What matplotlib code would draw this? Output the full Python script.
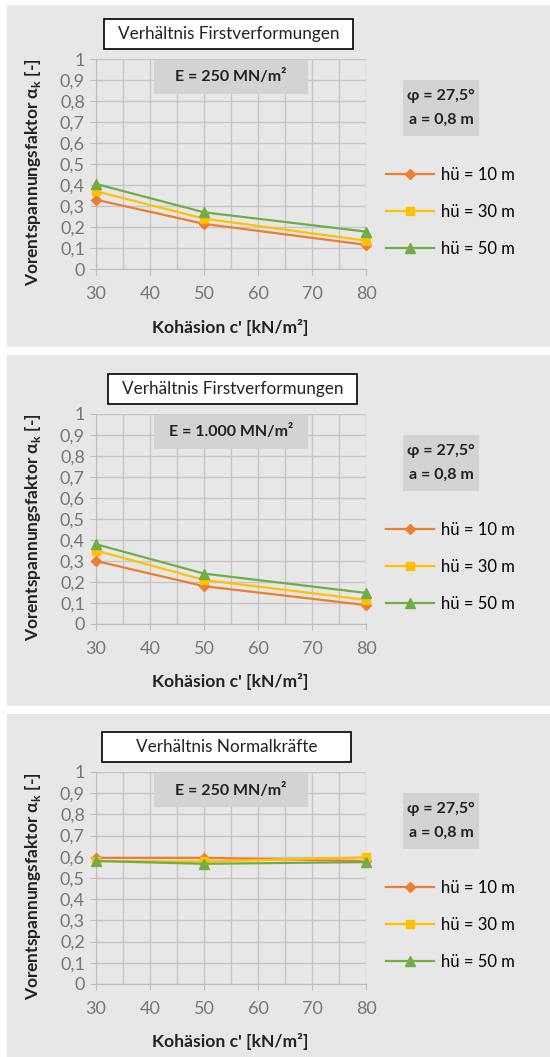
import matplotlib
matplotlib.use('Agg')
import matplotlib.pyplot as plt
from matplotlib.patches import Rectangle
from matplotlib.ticker import MultipleLocator, FuncFormatter

plt.rcParams['font.family'] = ['Lato', 'DejaVu Sans']

# data
kohaesion = [30, 50, 80]
labels = ['hü = 10 m', 'hü = 30 m', 'hü = 50 m']
titles = ['Verhältnis Firstverformungen', 'Verhältnis Firstverformungen', 'Verhältnis Normalkräfte']
e_texts = ['E = 250 MN/m²', 'E = 1.000 MN/m²', 'E = 250 MN/m²']

p1_h10 = [0.33, 0.215, 0.115]
p1_h30 = [0.37, 0.24, 0.135]
p1_h50 = [0.405, 0.27, 0.178]

p2_h10 = [0.30, 0.18, 0.09]
p2_h30 = [0.35, 0.21, 0.115]
p2_h50 = [0.38, 0.24, 0.148]

p3_h10 = [0.595, 0.595, 0.58]
p3_h30 = [0.58, 0.578, 0.597]
p3_h50 = [0.58, 0.567, 0.575]

series = [[p1_h10, p1_h30, p1_h50],
          [p2_h10, p2_h30, p2_h50],
          [p3_h10, p3_h30, p3_h50]]

colors = ['#ED7D31', '#FFC000', '#70AD47']
markers = ['D', 's', '^']
msizes = [5, 6, 6.5]

W, H = 550, 1057

def fx(x):
    return x / W

def fy(y):
    return 1 - y / H

# layout in pixels: panel top/bottom, axes top/bottom, title box x
panels = [(5, 347, 59, 269, 104), (355, 706, 414, 624, 108), (714, 1057, 772, 984, 102)]

fig = plt.figure(figsize=(W / 100, H / 100), dpi=100)
fig.patch.set_facecolor('white')

for i, (pt, pb, t, b, tx) in enumerate(panels):
    fig.patches.append(Rectangle((fx(7), fy(pb)), fx(550 - 7), (pb - pt) / H,
                                 transform=fig.transFigure, facecolor='#e7e7e7',
                                 edgecolor='none', zorder=-2))

    ax = fig.add_axes([fx(96), fy(b), fx(270), (b - t) / H])
    ax.set_facecolor('none')
    for k in range(3):
        ax.plot(kohaesion, series[i][k], color=colors[k], marker=markers[k],
                markersize=msizes[k], lw=1.6, label=labels[k], zorder=3, clip_on=False)
    ax.set_xlim(30, 80)
    ax.set_ylim(0, 1)
    ax.xaxis.set_major_locator(MultipleLocator(10))
    ax.xaxis.set_minor_locator(MultipleLocator(5))
    ax.yaxis.set_major_locator(MultipleLocator(0.1))
    ax.yaxis.set_major_formatter(FuncFormatter(lambda v, p: ('%g' % round(v, 1)).replace('.', ',')))
    ax.grid(True, which='both', color='#c6c6c6', lw=1)
    ax.set_axisbelow(True)
    for s in ['top', 'right']:
        ax.spines[s].set_visible(False)
    for s in ['left', 'bottom']:
        ax.spines[s].set_color('#bdbdbd')
    ax.tick_params(axis='both', which='major', direction='out', length=4, color='#bdbdbd',
                   labelsize=13, labelcolor='#767676')
    ax.tick_params(axis='x', which='major', pad=8)
    ax.tick_params(axis='y', which='major', pad=4)
    ax.tick_params(axis='x', which='minor', length=0)

    ax.legend(loc='upper left', bbox_to_anchor=(fx(386), fy(t + 108)),
              bbox_transform=fig.transFigure, frameon=False, fontsize=12,
              handlelength=2.9, handletextpad=0.4, labelspacing=1.25,
              borderpad=0, borderaxespad=0)

    # title box
    fig.patches.append(Rectangle((fx(tx), fy(t - 10)), fx(249), 30 / H,
                                 transform=fig.transFigure, facecolor='white',
                                 edgecolor='black', lw=1.2, zorder=1))
    fig.text(fx(tx + 124.5), fy(t - 25), titles[i], ha='center', va='center',
             fontsize=12.3, color='#222222', zorder=2)

    # E box
    fig.patches.append(Rectangle((fx(154), fy(t + 35)), fx(154), 34 / H,
                                 transform=fig.transFigure, facecolor='#d3d3d3',
                                 edgecolor='none', zorder=1))
    fig.text(fx(231), fy(t + 18), e_texts[i], ha='center', va='center',
             fontsize=11.5, fontweight='bold', color='#222222', zorder=2)

    # phi box
    fig.patches.append(Rectangle((fx(403), fy(t + 77)), fx(76), 56 / H,
                                 transform=fig.transFigure, facecolor='#d3d3d3',
                                 edgecolor='none', zorder=1))
    fig.text(fx(441), fy(t + 37), 'φ = 27,5°', ha='center', va='center',
             fontsize=11.5, fontweight='bold', color='#222222', zorder=2)
    fig.text(fx(441), fy(t + 61), 'a = 0,8 m', ha='center', va='center',
             fontsize=11.5, fontweight='bold', color='#222222', zorder=2)

    fig.text(fx(230), fy(b + 58), "Kohäsion c' [kN/m²]", ha='center', va='center',
             fontsize=12.6, fontweight='bold', color='#222222')
    fig.text(fx(33), fy((t + b) / 2 + 8), r'Vorentspannungsfaktor α$_\mathregular{k}$ [-]',
             ha='center', va='center', rotation=90, fontsize=12.5, fontweight='bold',
             color='#222222')

fig.savefig('out.png', dpi=100)
